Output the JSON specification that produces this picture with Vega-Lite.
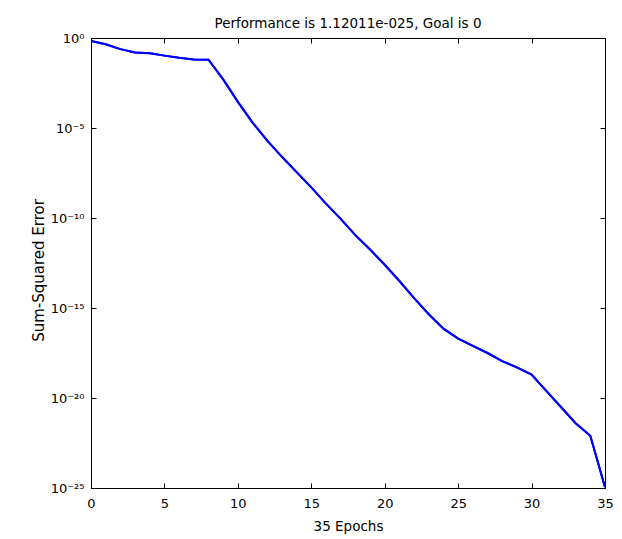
{
  "$schema": "https://vega.github.io/schema/vega-lite/v6.json",
  "autosize": "none",
  "width": 514,
  "height": 450,
  "padding": {"left": 91, "top": 38, "right": 17, "bottom": 51},
  "background": "white",
  "title": {
    "text": "Performance is 1.12011e-025, Goal is 0",
    "font": "DejaVu Sans",
    "fontSize": 13.5,
    "fontWeight": "normal",
    "color": "black",
    "offset": 2
  },
  "config": {
    "view": {"stroke": "black", "strokeWidth": 1},
    "axis": {
      "grid": false,
      "domainColor": "black",
      "tickColor": "black",
      "labelColor": "black",
      "titleColor": "black",
      "labelFont": "DejaVu Sans",
      "titleFont": "DejaVu Sans",
      "labelFontSize": 13,
      "titleFontSize": 13.5,
      "titleFontWeight": "normal",
      "tickSize": -5
    }
  },
  "data": {
    "values": [
      {"epoch": 0, "sse": 0.676},
      {"epoch": 1, "sse": 0.447},
      {"epoch": 2, "sse": 0.24},
      {"epoch": 3, "sse": 0.158},
      {"epoch": 4, "sse": 0.141},
      {"epoch": 5, "sse": 0.105},
      {"epoch": 6, "sse": 0.0794},
      {"epoch": 7, "sse": 0.0631},
      {"epoch": 8, "sse": 0.0617},
      {"epoch": 9, "sse": 0.00501},
      {"epoch": 10, "sse": 2.82e-4},
      {"epoch": 11, "sse": 2.0e-5},
      {"epoch": 12, "sse": 2.0e-6},
      {"epoch": 13, "sse": 2.51e-7},
      {"epoch": 14, "sse": 3.55e-8},
      {"epoch": 15, "sse": 5.01e-9},
      {"epoch": 16, "sse": 6.31e-10},
      {"epoch": 17, "sse": 8.91e-11},
      {"epoch": 18, "sse": 1.12e-11},
      {"epoch": 19, "sse": 1.78e-12},
      {"epoch": 20, "sse": 2.51e-13},
      {"epoch": 21, "sse": 3.16e-14},
      {"epoch": 22, "sse": 3.55e-15},
      {"epoch": 23, "sse": 4.47e-16},
      {"epoch": 24, "sse": 7.08e-17},
      {"epoch": 25, "sse": 2.0e-17},
      {"epoch": 26, "sse": 7.94e-18},
      {"epoch": 27, "sse": 3.16e-18},
      {"epoch": 28, "sse": 1.12e-18},
      {"epoch": 29, "sse": 5.01e-19},
      {"epoch": 30, "sse": 2.0e-19},
      {"epoch": 31, "sse": 2.51e-20},
      {"epoch": 32, "sse": 3.16e-21},
      {"epoch": 33, "sse": 3.98e-22},
      {"epoch": 34, "sse": 7.94e-23},
      {"epoch": 35, "sse": 1.12011e-25}
    ]
  },
  "layer": [
    {
      "mark": {"type": "line", "color": "#0000FF", "strokeWidth": 2, "clip": true},
      "encoding": {
        "x": {
          "field": "epoch", "type": "quantitative",
          "scale": {"domain": [0, 35], "nice": false, "zero": false},
          "axis": {"values": [0, 5, 10, 15, 20, 25, 30, 35], "title": "35 Epochs", "labelPadding": 14, "titlePadding": 9, "labelFlush": false}
        },
        "y": {
          "field": "sse", "type": "quantitative",
          "scale": {"type": "log", "domain": [1e-25, 1], "nice": false},
          "axis": {
            "values": [1, 1e-5, 1e-10, 1e-15, 1e-20, 1e-25],
            "labelExpr": "datum.value >= 0.5 ? '10⁰' : datum.value >= 5e-6 ? '10⁻⁵' : datum.value >= 5e-11 ? '10⁻¹⁰' : datum.value >= 5e-16 ? '10⁻¹⁵' : datum.value >= 5e-21 ? '10⁻²⁰' : '10⁻²⁵'",
            "title": "Sum-Squared Error",
            "titleFontSize": 15,
            "titleY": 232,
            "labelPadding": 12,
            "titlePadding": 4,
            "labelFlush": false
          }
        }
      }
    },
    {
      "mark": {"type": "line", "color": "#0000FF", "strokeWidth": 2, "clip": true},
      "encoding": {
        "x": {
          "field": "epoch", "type": "quantitative",
          "axis": {"orient": "top", "values": [0, 5, 10, 15, 20, 25, 30, 35], "labels": false, "title": null}
        },
        "y": {
          "field": "sse", "type": "quantitative",
          "axis": {"orient": "right", "values": [1, 1e-5, 1e-10, 1e-15, 1e-20, 1e-25], "labels": false, "title": null}
        }
      }
    }
  ],
  "resolve": {"axis": {"x": "independent", "y": "independent"}}
}
